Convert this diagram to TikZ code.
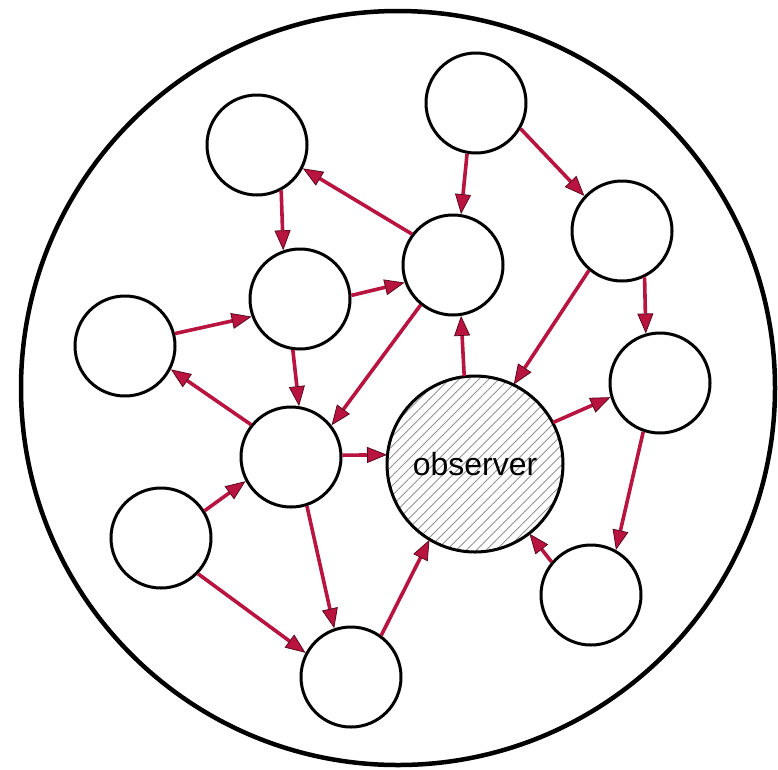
\documentclass[tikz,border=0pt]{standalone}
\usepackage{fontspec}
\setmainfont{Liberation Sans}
\usetikzlibrary{arrows.meta,patterns.meta}
\definecolor{arr}{HTML}{B8143F}
\definecolor{arrdark}{HTML}{5A0A1E}
\begin{document}
\begin{tikzpicture}[x=1pt,y=-1pt,
  nd/.style={circle,draw=black,line width=3pt,minimum size=100pt,inner sep=0pt,fill=white},
  conn/.style={draw=arr,line width=3.6pt,
    -{Triangle[length=20pt,width=16pt,color=arrdark,fill=arr,line width=0.8pt]}}]
\useasboundingbox (0,0) rectangle (778,769);
\draw[line width=4.5pt] (398,388) circle (377);
\node[nd] (A) at (257,145) {};
\node[nd] (B) at (476,103) {};
\node[nd] (C) at (622,231) {};
\node[nd] (D) at (453,265) {};
\node[nd] (E) at (300,299) {};
\node[nd] (F) at (125,346) {};
\node[nd] (G) at (660,383) {};
\node[nd] (H) at (291,457) {};
\node[nd] (I) at (161,538) {};
\node[nd] (J) at (591,595) {};
\node[nd] (K) at (351,677) {};
\node[circle,draw=black,line width=3pt,minimum size=176pt,inner sep=0pt,
  pattern={Lines[distance=7pt,angle=45,line width=0.9pt]},pattern color=gray!85,
  font=\fontsize{32}{34}\selectfont] (O) at (475,464) {observer};
\draw[conn] (A.-62) -- (E.109);
\draw[conn] (B.-100) -- (D.81);
\draw[conn] (B.-30) -- (C.137);
\draw[conn] (D.143) -- (A.-27);
\draw[conn] (E.4) -- (D.-160);
\draw[conn] (F.14) -- (E.-160);
\draw[conn] (E.-98) -- (H.81);
\draw[conn] (H.141) -- (F.-27);
\draw[conn] (D.-129) -- (H.38);
\draw[conn] (O.97) -- (D.-81);
\draw[conn] (C.-130) -- (O.64);
\draw[conn] (C.-64) -- (G.106);
\draw[conn] (O.28) -- (G.-164);
\draw[conn] (G.-109) -- (J.61);
\draw[conn] (J.140) -- (O.-52);
\draw[conn] (H.2) -- (O.174);
\draw[conn] (I.32) -- (H.-152);
\draw[conn] (I.-44) -- (K.152);
\draw[conn] (H.-72) -- (K.109);
\draw[conn] (K.54) -- (O.-121);
\end{tikzpicture}
\end{document}
